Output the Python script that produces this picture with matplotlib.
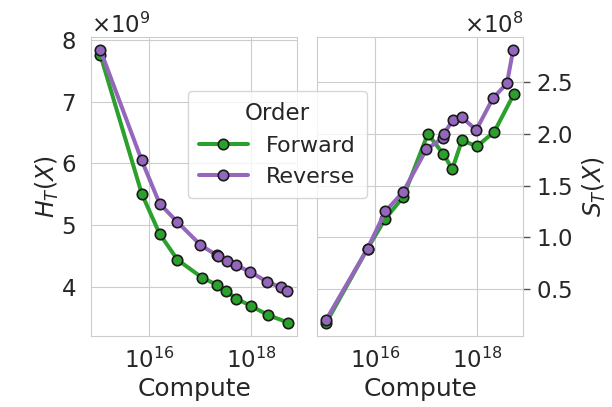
import numpy as np
import matplotlib
matplotlib.use("Agg")
import matplotlib.pyplot as plt
import seaborn as sns
from matplotlib.ticker import ScalarFormatter

# datos (log10 del compute)
fwd_logx = [15.04, 15.85, 16.2, 16.55, 17.03, 17.33, 17.51, 17.7, 17.99, 18.33, 18.72]
rev_logx = [15.04, 15.85, 16.2, 16.55, 17.0, 17.32, 17.34, 17.53, 17.7, 17.98, 18.31, 18.58, 18.7]

# H_T(X) en unidades de 1e9
fwd_H = [7.76, 5.51, 4.86, 4.44, 4.15, 4.03, 3.93, 3.81, 3.69, 3.54, 3.42]
rev_H = [7.84, 6.05, 5.35, 5.05, 4.68, 4.51, 4.50, 4.42, 4.35, 4.24, 4.08, 3.99, 3.94]

# S_T(X) en unidades de 1e8
fwd_S = [0.17, 0.89, 1.18, 1.39, 2.0, 1.81, 1.66, 1.94, 1.88, 2.02, 2.39]
rev_S = [0.20, 0.89, 1.25, 1.44, 1.85, 1.96, 2.0, 2.14, 2.16, 2.04, 2.35, 2.49, 2.81]

labels = ["Forward", "Reverse"]
colors = ["#2ca02c", "#9467bd"]

sns.set_style("whitegrid")
plt.rcParams['font.family'] = ['DejaVu Sans']
plt.rcParams['font.size'] = 16

fig = plt.figure(figsize=(6.12, 4.07), dpi=100)
ax1 = fig.add_axes([0.149, 0.174, 0.337, 0.735])
ax2 = fig.add_axes([0.518, 0.174, 0.337, 0.735])

fwd_x = 10 ** np.array(fwd_logx)
rev_x = 10 ** np.array(rev_logx)

estilo = dict(lw=2.9, marker="o", ms=7.5, mec="#1a1a1a", mew=1.2)

ax1.plot(fwd_x, np.array(fwd_H) * 1e9, color=colors[0], label=labels[0], **estilo)
ax1.plot(rev_x, np.array(rev_H) * 1e9, color=colors[1], label=labels[1], **estilo)
ax2.plot(fwd_x, np.array(fwd_S) * 1e8, color=colors[0], **estilo)
ax2.plot(rev_x, np.array(rev_S) * 1e8, color=colors[1], **estilo)

for ax in [ax1, ax2]:
    ax.set_xscale("log")
    ax.set_xlim(10 ** 14.86, 10 ** 18.9)
    ax.set_xticks([1e16, 1e18])
    ax.minorticks_off()
    ax.set_xlabel("Compute", fontsize=18, labelpad=3)
    ax.tick_params(labelsize=16.5, length=0)
    ax.tick_params(axis="x", pad=8)
    fmt = ScalarFormatter(useMathText=True)
    ax.yaxis.set_major_formatter(fmt)
    ax.yaxis.get_offset_text().set_fontsize(16.5)
    for s in ax.spines.values():
        s.set_color("#cccccc")

ax1.set_ylim(3.2e9, 8.05e9)
ax1.set_yticks([4e9, 5e9, 6e9, 7e9, 8e9])
ax1.tick_params(axis="y", pad=11)
ax1.set_ylabel("$H_T(X)$", fontsize=17, labelpad=0)

ax2.set_ylim(0.04e8, 2.94e8)
ax2.set_yticks([0.5e8, 1.0e8, 1.5e8, 2.0e8, 2.5e8])
ax2.yaxis.tick_right()
ax2.yaxis.set_label_position("right")
ax2.tick_params(axis="y", length=5, width=1, color="#555555", pad=4)
ax2.set_ylabel("$S_T(X)$", fontsize=17, labelpad=6)

h, l = ax1.get_legend_handles_labels()
fig.legend(h, l, title="Order", loc="center", bbox_to_anchor=(0.453, 0.645),
           fontsize=16, title_fontsize=16.5, frameon=True, borderpad=0.5,
           handlelength=2.2)

plt.savefig("out.png", dpi=100)
